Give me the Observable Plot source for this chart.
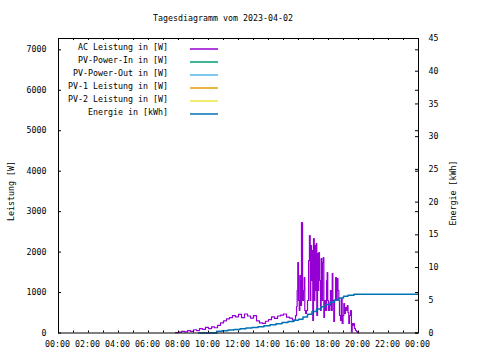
<!DOCTYPE html>
<html><head><meta charset="utf-8">
<script src="https://cdn.jsdelivr.net/npm/d3@7"></script>
<script src="https://cdn.jsdelivr.net/npm/@observablehq/plot@0.6"></script>
<style>html,body{margin:0;padding:0;background:#fff} svg{display:block}</style>
</head><body><div id="chart"></div>
<script>
const chartTitle = "Tagesdiagramm vom 2023-04-02";
const yLabel = "Leistung [W]";
const y2Label = "Energie [kWh]";
const seriesNames = ["AC Leistung in [W]", "PV-Power-In in [W]", "PV-Power-Out in [W]", "PV-1 Leistung in [W]", "PV-2 Leistung in [W]", "Energie in [kWh]"];
const seriesColors = ["#9400d3", "#009e73", "#56b4e9", "#e69f00", "#f0e442", "#0072b2"];

// AC Leistung: hour of day, watts
const acHours = [7.8,8.0,8.2,8.4,8.6,8.8,9.0,9.2,9.4,9.6,9.8,10.0,10.2,10.4,10.6,10.8,11.0,11.2,11.4,11.6,11.8,12.0,12.2,12.4,12.6,12.8,13.0,13.2,13.4,13.6,13.8,14.0,14.2,14.4,14.6,14.8,15.0,15.2,15.4,15.6,15.8,
15.87,15.91,15.95,16.0,16.05,16.09,16.13,16.2,16.27,16.33,16.38,16.42,16.47,16.53,16.6,16.67,16.73,16.78,16.82,16.87,16.91,16.95,17.0,17.05,17.09,17.13,17.18,17.22,17.27,17.31,17.35,17.4,17.47,17.51,17.55,17.6,17.65,17.69,17.73,17.8,17.87,17.91,17.95,18.0,18.07,18.13,18.18,18.25,18.29,18.35,18.4,18.47,18.53,18.58,18.63,18.69,18.73,18.8,18.85,18.91,18.97,19.02,19.07,19.13,19.2,19.25,19.3,19.35,19.4,19.47,19.53,19.58,19.63,19.69,19.73,19.8,19.87,19.93,20.0];
const acWatts = [10,20,40,30,60,40,80,60,110,90,140,110,150,130,190,250,300,350,380,430,400,460,380,470,420,370,430,300,250,240,290,330,400,360,420,440,470,390,370,320,430,
655,1050,1743,803,556,1421,680,2732,803,1050,1372,556,482,556,803,1792,2410,803,2163,1298,2039,309,2336,803,2163,1050,2212,433,1965,1050,1990,1298,556,1841,803,1743,1866,383,803,556,1298,1496,803,556,680,1050,556,1471,803,284,803,1372,803,1347,1050,803,433,309,853,235,433,729,482,630,556,680,507,235,433,556,25,235,185,235,111,62,37,12,0];

// Energie: hour of day, kWh
const energyHours = [9.35,10.55,10.9,11.3,11.7,12.1,12.5,12.9,13.3,13.7,14.1,14.5,14.9,15.3,15.7,16.0,16.3,16.6,16.9,17.2,17.5,17.8,18.1,18.4,18.7,19.0,19.3,19.7,24.0];
const energyKWh = [0,0.25,0.35,0.45,0.55,0.65,0.75,0.85,0.95,1.1,1.25,1.4,1.6,1.75,1.95,2.1,2.45,2.85,3.3,3.65,4.0,4.35,4.7,5.05,5.35,5.6,5.75,5.93,5.93];

const xTickHours = [0,2,4,6,8,10,12,14,16,18,20,22,24];
const xMinorHours = d3.range(0, 25);
const yTicksW = [0,1000,2000,3000,4000,5000,6000,7000];
const y2TicksKWh = [0,5,10,15,20,25,30,35,40,45];

const yMax = 7280, y2Max = 45;
const k = yMax / y2Max;
const mL = 58, mR = 62, mT = 38, mB = 27.5;
const W = 480, H = 360;
const plotH = H - mT - mB, plotW = W - mL - mR;
const font = "DejaVu Sans Mono";
const fs = 8.3;
const tickYpx = 3, tickXpx = 2;
const dW = tickXpx * yMax / plotH;   // x tick length in data units
const dH = tickYpx * 24 / plotW;     // y tick length in data units

const ac = acHours.map((h, i) => ({h, w: acWatts[i]}));
const en = energyHours.map((h, i) => ({h, e: energyKWh[i] * k}));
const fmtHour = h => String(h % 24).padStart(2, "0") + ":00";

const chart = Plot.plot({
  width: W, height: H,
  marginLeft: mL, marginRight: mR, marginTop: mT, marginBottom: mB,
  style: {fontFamily: font, fontSize: fs + "px", background: "white", color: "black", overflow: "visible"},
  x: {domain: [0, 24], label: null},
  y: {domain: [0, yMax], label: null},
  marks: [
    Plot.line(ac, {x: "h", y: "w", stroke: seriesColors[0], strokeWidth: 1.2, curve: "step-after"}),
    Plot.line(en, {x: "h", y: "e", stroke: seriesColors[5], strokeWidth: 1.5, curve: "step-after"}),
    // inward ticks
    Plot.ruleX(xMinorHours, {x: d => d, y1: 0, y2: dW, stroke: "black"}),
    Plot.ruleX(xMinorHours, {x: d => d, y1: yMax - dW, y2: yMax, stroke: "black"}),
    Plot.ruleY(yTicksW, {y: d => d, x1: 0, x2: dH, stroke: "black"}),
    Plot.ruleY(yTicksW, {y: d => d, x1: 24 - dH, x2: 24, stroke: "black"}),
    Plot.ruleY(y2TicksKWh, {y: d => d * k, x1: 24 - dH, x2: 24, stroke: "black"}),
    Plot.frame({stroke: "black", strokeWidth: 1}),
    Plot.axisX({ticks: xTickHours, anchor: "bottom", tickSize: 0, tickPadding: 8.5, tickFormat: fmtHour, fontSize: fs, label: null, dx: -1}),
    Plot.axisY({ticks: yTicksW, anchor: "left", tickSize: 0, tickPadding: 12, fontSize: fs, label: null, tickFormat: d => String(d)}),
    Plot.axisY({ticks: y2TicksKWh.map(v => v * k), anchor: "right", tickSize: 0, tickPadding: 10, fontSize: fs, label: null, tickFormat: v => String(Math.round(v / k))})
  ]
});

const svg = d3.select(chart);
const tstyle = sel => sel.attr("font-family", font).attr("font-size", fs).attr("fill", "black");
svg.append("text").call(tstyle).attr("x", 223).attr("y", 18).attr("text-anchor", "middle").attr("dominant-baseline", "central").text(chartTitle);
svg.append("text").call(tstyle).attr("transform", "translate(11,191) rotate(-90)").attr("text-anchor", "middle").attr("dominant-baseline", "central").text(yLabel);
svg.append("text").call(tstyle).attr("transform", "translate(453,193) rotate(-90)").attr("text-anchor", "middle").attr("dominant-baseline", "central").text(y2Label);

const leg = svg.append("g");
seriesNames.forEach((name, i) => {
  const cy = 47 + i * 13;
  leg.append("text").call(tstyle).attr("x", 168).attr("y", cy).attr("text-anchor", "end").attr("dominant-baseline", "central").text(name);
  leg.append("line").attr("x1", 190).attr("x2", 218).attr("y1", cy + 2).attr("y2", cy + 2).attr("stroke", seriesColors[i]).attr("stroke-width", 1.5);
});

document.getElementById("chart").appendChild(chart);
</script>
</body></html>
